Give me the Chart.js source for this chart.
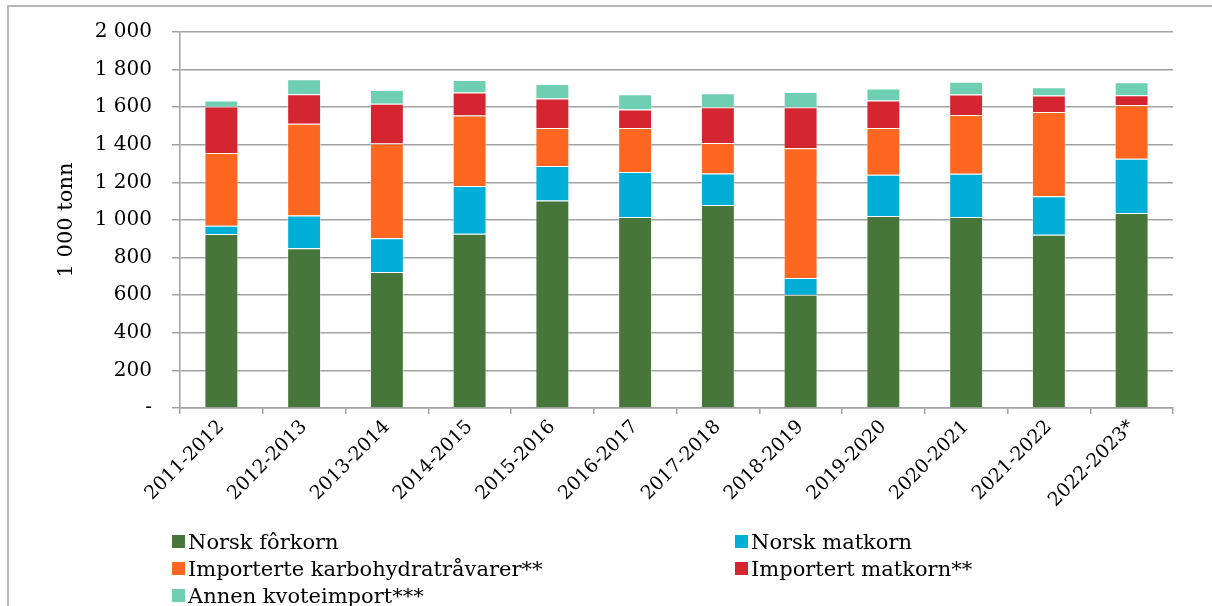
<!DOCTYPE html>
<html>
<head>
<meta charset="utf-8">
<script src="https://cdn.jsdelivr.net/npm/chart.js@4"></script>
<style>
  html, body { margin: 0; padding: 0; background: #fff; }
  #wrap { position: relative; width: 1212px; height: 606px; overflow: hidden; }
  #frame { position: absolute; left: 7px; top: 5px; width: 1300px; height: 700px;
           border-top: 2px solid #b8b8b8; border-left: 2px solid #b8b8b8; box-sizing: border-box; }
  canvas { position: absolute; left: 0; top: 0; }
  #legend { position: absolute; left: 172px; top: 530px; width: 900px;
            font-family: "DejaVu Serif", serif; font-size: 21px; color: #000; }
  #legend .item { position: absolute; white-space: nowrap; line-height: 24px; }
  #legend .box { display: inline-block; width: 13px; height: 13px; margin-right: 3px; vertical-align: 1px; }
</style>
</head>
<body>
<div id="wrap">
  <div id="frame"></div>
  <canvas id="grainChart" width="1212" height="606"></canvas>
  <div id="legend"></div>
</div>
<script>
  // Seasons on the x axis
  const seasons = ['2011-2012', '2012-2013', '2013-2014', '2014-2015', '2015-2016', '2016-2017',
                   '2017-2018', '2018-2019', '2019-2020', '2020-2021', '2021-2022', '2022-2023*'];

  // Quantities in 1 000 tonn, stacked from the bottom up
  const norskForkorn = [925, 850, 723, 927, 1104, 1016, 1080, 602, 1021, 1016, 922, 1037];
  const norskMatkorn = [45, 174, 180, 254, 183, 239, 168, 90, 220, 230, 204, 289];
  const importKarbo = [386, 488, 504, 375, 203, 235, 161, 689, 249, 313, 449, 285];
  const importMatkorn = [248, 157, 211, 122, 156, 98, 191, 219, 145, 108, 87, 53];
  const annenKvote = [31, 80, 74, 67, 78, 81, 74, 81, 64, 68, 44, 69];

  const seriesNames = ['Norsk fôrkorn', 'Norsk matkorn', 'Importerte karbohydratråvarer**',
                       'Importert matkorn**', 'Annen kvoteimport***'];
  const seriesColors = ['#47763a', '#00aed6', '#ff6720', '#d42531', '#6fcfb3'];
  const yTicks = [0, 200, 400, 600, 800, 1000, 1200, 1400, 1600, 1800, 2000];

  const serif = '"DejaVu Serif", serif';
  const gridGray = '#a2a2a2';

  const values = [norskForkorn, norskMatkorn, importKarbo, importMatkorn, annenKvote];
  const datasets = values.map((data, i) => ({
    label: seriesNames[i],
    data: data,
    backgroundColor: seriesColors[i],
    borderColor: 'rgba(255,255,255,0.45)',
    borderWidth: 1,
    barPercentage: 0.41,
    categoryPercentage: 1.0
  }));

  function formatThousands(v) {
    if (v === 0) return '-';
    return String(v).replace(/\B(?=(\d{3})+(?!\d))/g, ' ');
  }

  const ctx = document.getElementById('grainChart').getContext('2d');
  const chart = new Chart(ctx, {
    type: 'bar',
    data: { labels: seasons, datasets: datasets },
    options: {
      responsive: false,
      animation: false,
      layout: { padding: { left: 54, right: 39, top: 20, bottom: 86 } },
      plugins: {
        legend: { display: false },
        tooltip: { enabled: false }
      },
      scales: {
        x: {
          stacked: true,
          grid: { drawOnChartArea: false, drawTicks: true, tickLength: 6, color: gridGray, lineWidth: 1.5 },
          border: { color: gridGray, width: 1.5 },
          ticks: {
            color: '#000',
            font: { family: serif, size: 19 },
            minRotation: 45,
            maxRotation: 45,
            padding: 2
          },
          afterFit: scale => { scale.height = 112; }
        },
        y: {
          stacked: true,
          min: 0,
          max: 2000,
          afterBuildTicks: scale => { scale.ticks = yTicks.map(v => ({ value: v })); },
          grid: { color: gridGray, lineWidth: 1.5, tickLength: 8 },
          border: { color: gridGray, width: 1.5 },
          ticks: {
            color: '#000',
            font: { family: serif, size: 20 },
            padding: 20,
            callback: v => formatThousands(v)
          },
          title: {
            display: true,
            text: '1 000 tonn',
            color: '#000',
            font: { family: serif, size: 21 },
            padding: { top: 0, bottom: 4 }
          },
          afterFit: scale => { scale.width = 126; }
        }
      }
    }
  });

  // Two-column legend below the chart
  const legend = document.getElementById('legend');
  const slots = [[0, 0], [563, 0], [0, 27], [563, 27], [0, 54]];
  chart.data.datasets.forEach((ds, i) => {
    const item = document.createElement('div');
    item.className = 'item';
    item.style.left = slots[i][0] + 'px';
    item.style.top = slots[i][1] + 'px';
    item.innerHTML = '<span class="box" style="background:' + ds.backgroundColor + '"></span>' + ds.label;
    legend.appendChild(item);
  });
</script>
</body>
</html>
